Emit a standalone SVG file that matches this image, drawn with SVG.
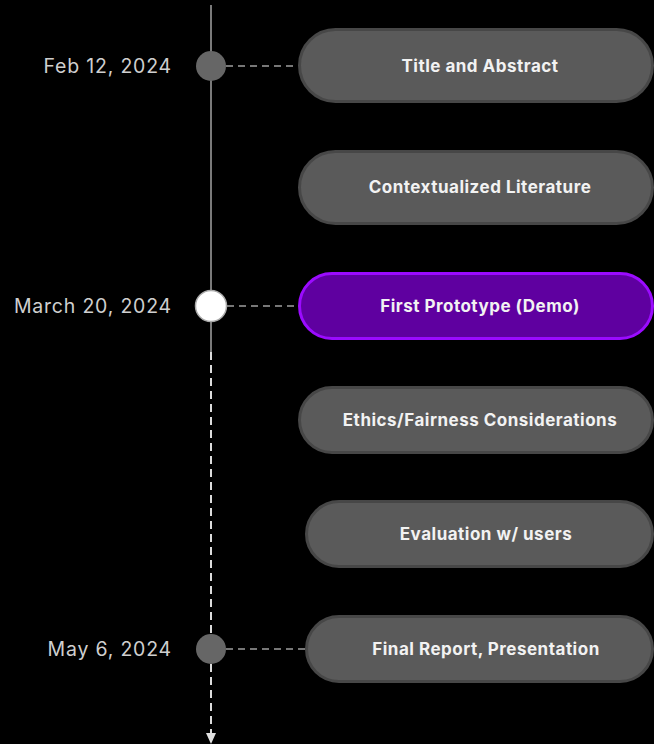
<svg xmlns="http://www.w3.org/2000/svg" width="654" height="744" viewBox="0 0 654 744">
<style>
.node rect{fill:#5a5a5a;stroke:#474747;stroke-width:3}
.node.active rect{fill:#5f00a0;stroke:#9b0bff}
.label{font-family:Inter,"Liberation Sans",sans-serif;font-weight:700;font-size:17px;letter-spacing:0.5px;fill:#f2f2f2;text-anchor:middle}
.date{font-family:Inter,"Liberation Sans",sans-serif;font-size:19.5px;letter-spacing:0.8px;fill:#cfcfcf;text-anchor:end}
.link{stroke:#777;stroke-width:2;stroke-dasharray:7 5;fill:none}
.dot{fill:#666}
</style>
<rect width="654" height="744" fill="#000"/>
<g id="connectors">
<line x1="211" y1="5" x2="211" y2="352" stroke="#7a7a7a" stroke-width="2"/>
<line x1="211" y1="352" x2="211" y2="734" stroke="#dcdcdc" stroke-width="2" stroke-dasharray="8 5"/>
<polygon points="206,733 216,733 211,744" fill="#e0e0e0"/>
<line class="link" x1="226" y1="66" x2="298" y2="66"/>
<line class="link" x1="227" y1="306" x2="298" y2="306"/>
<line class="link" x1="226" y1="649" x2="305" y2="649"/>
</g>
<g id="milestone-feb">
<circle class="dot" cx="211" cy="66" r="15"/>
<text class="date" x="172" y="73">Feb 12, 2024</text>
</g>
<g id="milestone-march">
<circle cx="211" cy="306" r="15.5" fill="#fff" stroke="#aaa" stroke-width="1.5"/>
<text class="date" x="172" y="313">March 20, 2024</text>
</g>
<g id="milestone-may">
<circle class="dot" cx="211" cy="649" r="15"/>
<text class="date" x="172" y="656">May 6, 2024</text>
</g>
<g id="node-title" class="node">
<rect x="299.5" y="29.5" width="353" height="72" rx="36"/>
<text class="label" x="480" y="72">Title and Abstract</text>
</g>
<g id="node-literature" class="node">
<rect x="299.5" y="151.5" width="353" height="72" rx="36"/>
<text class="label" x="480" y="193">Contextualized Literature</text>
</g>
<g id="node-prototype" class="node active">
<rect x="299.5" y="273.5" width="353" height="65" rx="32.5"/>
<text class="label" x="480" y="312">First Prototype (Demo)</text>
</g>
<g id="node-ethics" class="node">
<rect x="299.5" y="387.5" width="353" height="65" rx="32.5"/>
<text class="label" x="480" y="426">Ethics/Fairness Considerations</text>
</g>
<g id="node-evaluation" class="node">
<rect x="306.5" y="501.5" width="346" height="65" rx="32.5"/>
<text class="label" x="486" y="540">Evaluation w/ users</text>
</g>
<g id="node-final" class="node">
<rect x="306.5" y="616.5" width="346" height="65" rx="32.5"/>
<text class="label" x="486" y="655">Final Report, Presentation</text>
</g>
</svg>
